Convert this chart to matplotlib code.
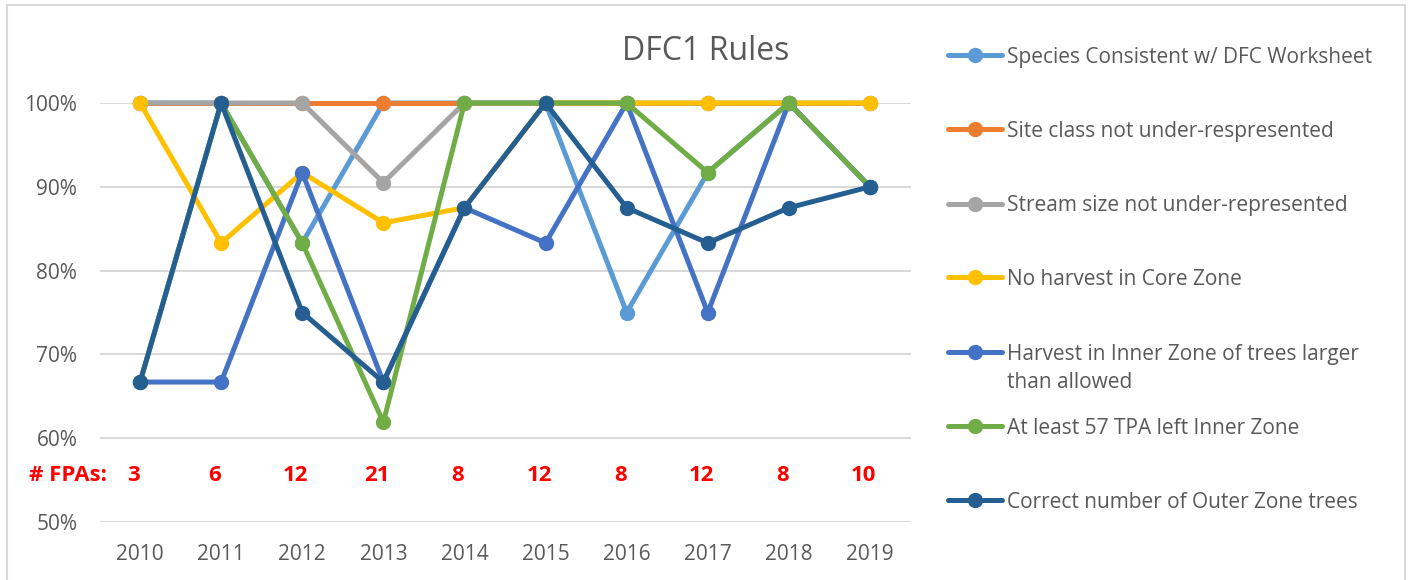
import matplotlib.pyplot as plt
from matplotlib.lines import Line2D
from matplotlib.patches import Rectangle
from matplotlib.ticker import PercentFormatter

plt.rcParams['font.family'] = ['Open Sans', 'DejaVu Sans']

# datos
anios = ['2010', '2011', '2012', '2013', '2014', '2015', '2016', '2017', '2018', '2019']
fpas = [3, 6, 12, 21, 8, 12, 8, 12, 8, 10]

especies = [100, 100, 83.3, 100, 100, 100, 75, 91.7, 100, 90]
sitio = [100, 100, 100, 100, 100, 100, 100, 100, 100, 100]
arroyo = [100, 100, 100, 90.5, 100, 100, 100, 100, 100, 100]
nucleo = [100, 83.3, 91.7, 85.7, 87.5, 100, 100, 100, 100, 100]
interior = [66.7, 66.7, 91.7, 66.7, 87.5, 83.3, 100, 75, 100, 90]
tpa = [66.7, 100, 83.3, 61.9, 100, 100, 100, 91.7, 100, 90]
exterior = [66.7, 100, 75, 66.7, 87.5, 100, 87.5, 83.3, 87.5, 90]

series = [
    ('Species Consistent w/ DFC Worksheet', especies, '#5B9BD5'),
    ('Site class not under-respresented', sitio, '#ED7D31'),
    ('Stream size not under-represented', arroyo, '#A5A5A5'),
    ('No harvest in Core Zone', nucleo, '#FFC000'),
    ('Harvest in Inner Zone of trees larger\nthan allowed', interior, '#4472C4'),
    ('At least 57 TPA left Inner Zone', tpa, '#70AD47'),
    ('Correct number of Outer Zone trees', exterior, '#255E91'),
]

gris = '#595959'

fig = plt.figure(figsize=(14.11, 5.8), dpi=100)
ax = fig.add_axes([99.5 / 1411, 1 - 522 / 580, 811 / 1411, 419 / 580])

x = range(len(anios))
for nombre, valores, color in series:
    ax.plot(x, valores, color=color, linewidth=3.6, marker='o', markersize=10,
            clip_on=False, solid_capstyle='round', zorder=3)

ax.set_xlim(-0.5, len(anios) - 0.5)
ax.set_ylim(50, 100)
ax.set_yticks([50, 60, 70, 80, 90, 100])
ax.yaxis.set_major_formatter(PercentFormatter(decimals=0))
ax.set_xticks(list(x))
ax.set_xticklabels(anios)
ax.tick_params(length=0, labelsize=15, colors=gris)
ax.tick_params(axis='y', pad=16)
ax.tick_params(axis='x', pad=16)
ax.grid(axis='y', color='#D9D9D9', linewidth=1.5)
ax.set_axisbelow(True)
for s in ax.spines.values():
    s.set_visible(False)

# numero de FPAs (un poco corridos a la izquierda como en el original)
for i, n in enumerate(fpas):
    ax.text(i - 0.08, 55.5, str(n), color='red', fontsize=16, fontweight='bold',
            ha='center', va='center')
ax.text(-0.41, 55.5, '# FPAs:', color='red', fontsize=16, fontweight='bold',
        ha='right', va='center')

fig.text(706 / 1411, 1 - 52 / 580, 'DFC1 Rules', fontsize=23, color=gris,
         ha='center', va='center')

# leyenda manual
ys = [55, 129, 204, 277, 352, 426, 500]
for (nombre, valores, color), yy in zip(series, ys):
    yf = 1 - yy / 580
    fig.add_artist(Line2D([948 / 1411, 1002 / 1411], [yf, yf], color=color,
                          linewidth=3.6, solid_capstyle='round'))
    fig.add_artist(Line2D([975 / 1411], [yf], color=color, marker='o',
                          markersize=10))
    extra = 29 * nombre.count('\n')
    fig.text(1007 / 1411, 1 - (yy + 7.5 + extra) / 580, nombre, fontsize=15,
             color=gris, ha='left', va='baseline', linespacing=1.45)

fig.add_artist(Rectangle((7 / 1411, -0.05), 1398 / 1411, 1.05 - 5 / 580,
                         fill=False, edgecolor='#D9D9D9', linewidth=1.5))

plt.savefig('out.png', dpi=100)
